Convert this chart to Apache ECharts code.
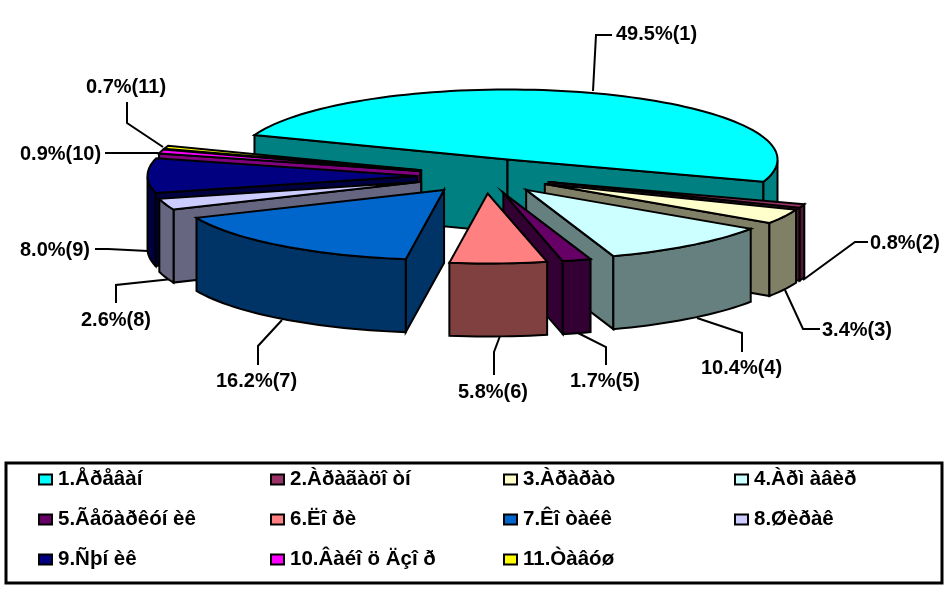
<!DOCTYPE html>
<html><head><meta charset="utf-8">
<style>html,body{margin:0;padding:0;background:#fff}#c{width:947px;height:592px}</style>
<script src="https://cdn.jsdelivr.net/npm/echarts@6/dist/echarts.min.js"></script>
</head><body><div id="c"></div>
<script>
const categories = ['1.Åðåâàí','2.Àðàãàöî òí','3.Àðàðàò','4.Àðì àâèð','5.Ãåõàðêóí èê','6.Ëî ðè','7.Êî òàéê','8.Øèðàê','9.Ñþí èê','10.Âàéî ö Äçî ð','11.Òàâóø'];
const shares = [49.5,0.8,3.4,10.4,1.7,5.8,16.2,2.6,8.0,0.9,0.7];
const topColors = ['#00FFFF','#993366','#FFFFCC','#CCFFFF','#660066','#FF8080','#0066CC','#CCCCFF','#000080','#FF00FF','#FFFF00'];
const sideColors = ['#008080','#4D1A33','#808066','#668080','#330033','#804040','#003366','#666680','#000040','#800080','#808000'];

// layout
const CX=485, CY=176, RX=270, RY=70, DEPTH=73, EXPLODE=0.25, START=159.6;
const paintOrder=[0,1,2,3,4,10,9,8,7,6,5];
const LINE={stroke:'#000',lineWidth:2,lineJoin:'miter'};
const leaders=[
 {a:[[593,91],[596,35],[612,35]],t:[616,34]},
 {a:[[803,280],[855,242],[868,242]],t:[870,243]},
 {a:[[785,290],[803,329],[820,329]],t:[822,330]},
 {a:[[697,318],[742,333],[742,352]],t:[701,368]},
 {a:[[578,333],[606,347],[606,365]],t:[570,381]},
 {a:[[500,336],[494,352],[494,375]],t:[458,392]},
 {a:[[282,320],[258,346],[258,365]],t:[216,381]},
 {a:[[172,279],[116,285],[116,303]],t:[81,320]},
 {a:[[148,251],[108,249],[95,249]],t:[20,250]},
 {a:[[158,153],[105,153]],t:[20,154]},
 {a:[[163,147],[127,123],[127,102]],t:[86,87]}
];
const legendCols=[37,269,502,733], legendRows=[480,520,560];

const total=shares.reduce((a,b)=>a+b,0);
let acc=START; const spans=shares.map(v=>{const s=acc; acc-=v/total*360; return [s,acc];});
const rad=d=>d*Math.PI/180;

function slicePieces(i){
  const [a0,a1]=spans[i], m=rad((a0+a1)/2);
  const ax=CX+EXPLODE*RX*Math.cos(m), ay=CY-EXPLODE*RY*Math.sin(m);
  const P=(d,z=0)=>[ax+RX*Math.cos(rad(d)), ay-RY*Math.sin(rad(d))+z];
  const n=Math.max(2,Math.ceil((a0-a1)/2));
  const arc=[]; for(let k=0;k<=n;k++) arc.push(a0+(a1-a0)*k/n);
  const poly=(pts,fill)=>({type:'polygon',shape:{points:pts},style:Object.assign({fill},LINE)});
  const top=[[ax,ay],...arc.map(d=>P(d))];
  const kids=[];
  if(Math.cos(rad(a0))<0) kids.push(poly([[ax,ay],P(a0),P(a0,DEPTH),[ax,ay+DEPTH]],sideColors[i]));
  if(Math.cos(rad(a1))>0) kids.push(poly([[ax,ay],P(a1),P(a1,DEPTH),[ax,ay+DEPTH]],sideColors[i]));
  let run=[];
  const flush=()=>{ if(run.length>1) kids.push(poly([...run.map(d=>P(d)),...run.slice().reverse().map(d=>P(d,DEPTH))],sideColors[i])); run=[]; };
  arc.forEach(d=>{ if(Math.sin(rad(d))<=0.001) run.push(d); else flush(); });
  flush();
  kids.push(poly(top,topColors[i]));
  return kids;
}

const series=paintOrder.map(i=>({
  type:'custom',name:categories[i],coordinateSystem:'none',silent:true,
  itemStyle:{color:topColors[i]},
  data:[shares[i]],
  renderItem:()=>({type:'group',children:slicePieces(i)})
}));

const labelSeries={
  type:'custom',coordinateSystem:'none',silent:true,data:shares,z:1,
  renderItem:(p)=>{
    const i=p.dataIndex,l=leaders[i];
    return {type:'group',children:[
      {type:'polyline',shape:{points:l.a},style:{stroke:'#000',lineWidth:2,fill:null}},
      {type:'text',style:{x:l.t[0],y:l.t[1],text:shares[i].toFixed(1)+'%('+(i+1)+')',fill:'#000',font:'bold 20px "Liberation Sans"',textVerticalAlign:'middle',textBaseline:'middle'}}
    ]};
  }
};

const legends=categories.map((c,i)=>({
  data:[c],left:legendCols[i%4]+1,top:legendRows[Math.floor(i/4)]-11,padding:0,
  itemWidth:13,itemHeight:10,icon:'rect',itemGap:0,selectedMode:false,
  itemStyle:{borderColor:'#000',borderWidth:2},
  textStyle:{color:'#000',fontFamily:'Liberation Sans',fontWeight:'bold',fontSize:20.5,padding:[2,0,0,1]}
}));

const chart=echarts.init(document.getElementById('c'),null,{renderer:'canvas'});
chart.setOption({
  animation:false,backgroundColor:'#fff',
  legend:legends,
  graphic:[{type:'rect',z:0,shape:{x:6,y:463,width:936,height:120},style:{fill:'#fff',stroke:'#000',lineWidth:3}}],
  series:[labelSeries,...series]
});
</script></body></html>
